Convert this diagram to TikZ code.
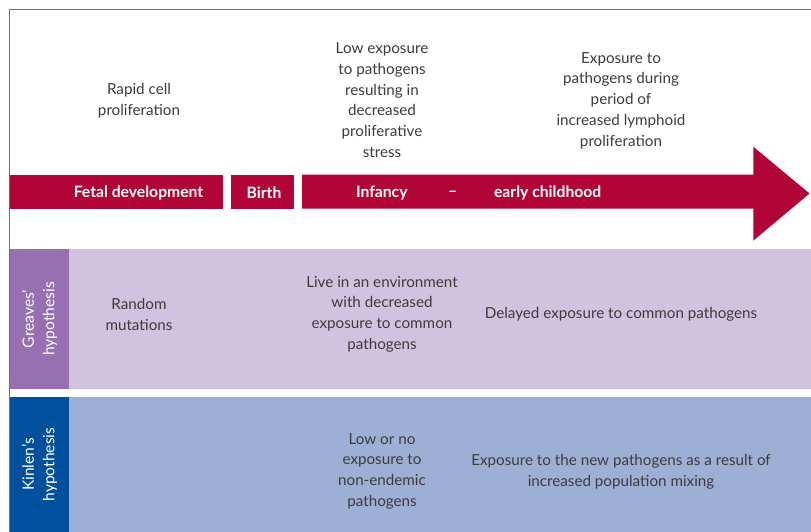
\documentclass[tikz,border=0pt]{standalone}
\usepackage{fontspec}
\setmainfont{Lato}
\begin{document}
\begin{tikzpicture}[x=1pt,y=-1pt,
  txt/.style={text=textgray,font=\fontsize{15.2}{20.7}\selectfont,align=center,inner sep=0pt},
  bartxt/.style={text=white,font=\fontsize{15.7}{17}\selectfont\bfseries,inner sep=0pt},
  sidetxt/.style={text=white,font=\fontsize{15.6}{20.5}\selectfont,align=center,inner sep=0pt,rotate=90}]
\definecolor{textgray}{RGB}{60,60,60}
\definecolor{lancetred}{RGB}{177,5,56}
\definecolor{gpurple}{RGB}{150,112,176}
\definecolor{glight}{RGB}{208,195,224}
\definecolor{kblue}{RGB}{0,80,158}
\definecolor{klight}{RGB}{158,175,213}
\definecolor{framegray}{RGB}{110,110,110}
\useasboundingbox (0,0) rectangle (811,532);
\fill[white] (0,0) rectangle (811,532);
% frame
\draw[framegray,line width=1.6pt] (9.5,532) -- (9.5,9.5) -- (811,9.5);
% bands
\fill[glight] (69,249) rectangle (811,388.7);
\fill[gpurple] (10.3,249) rectangle (69,388.7);
\fill[klight] (69,396.7) rectangle (811,532);
\fill[kblue] (10.3,396.7) rectangle (69,532);
% red bar
\fill[lancetred] (10.3,174.5) rectangle (222.7,208.7);
\fill[lancetred] (231,174.5) rectangle (294,208.7);
\fill[lancetred] (302,174.5) -- (753.3,174.5) -- (753.3,146.7) -- (809.5,193.5) -- (753.3,240.7) -- (753.3,208.7) -- (302,208.7) -- cycle;
\node[bartxt] (fetal) at (138.5,193) {Fetal development};
\node[bartxt] (birth) at (264,193) {Birth};
\node[bartxt] (inf) at (381.8,193) {Infancy};
\node[bartxt] (dash) at (452.7,194) {–};
\node[bartxt] (early) at (547.7,193) {early childhood};
% top texts
\node[txt] (t1) at (139,100.5) {Rapid cell\\proliferation};
\node[txt] (t2) at (382,100) {Low exposure\\to pathogens\\resulting in\\decreased\\proliferative\\stress};
\node[txt] (t3) at (621,100.5) {Exposure to\\pathogens during\\period of\\increased lymphoid\\proliferation};
% Greaves
\node[sidetxt] (gl) at (39.5,319) {Greaves’\\hypothesis};
\node[txt] (g1) at (139,314.5) {Random\\mutations};
\node[txt] (g2) at (382,314) {Live in an environment\\with decreased\\exposure to common\\pathogens};
\node[txt] (g3) at (621,314.5) {Delayed exposure to common pathogens};
% Kinlen
\node[sidetxt] (kl) at (39.5,464.5) {Kinlen’s\\hypothesis};
\node[txt] (k1) at (382,471) {Low or no\\exposure to\\non-endemic\\pathogens};
\node[txt] (k2) at (621,471.5) {Exposure to the new pathogens as a result of\\increased population mixing};
\end{tikzpicture}
\end{document}
